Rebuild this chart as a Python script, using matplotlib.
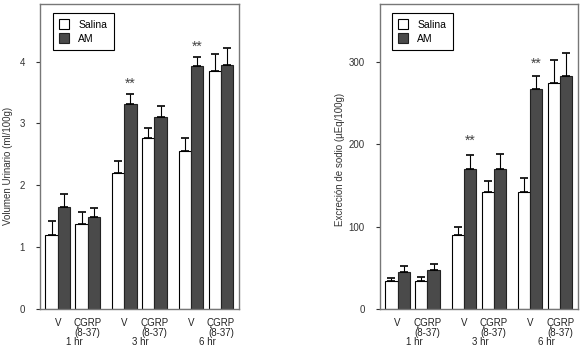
import matplotlib
matplotlib.use("Agg")
import matplotlib.pyplot as plt
from matplotlib.patches import Patch
from matplotlib.transforms import blended_transform_factory
import numpy as np

plt.rcParams['font.family'] = ['Liberation Sans', 'DejaVu Sans']

# ---- data ----
time_groups = ["1 hr", "3 hr", "6 hr"]
conditions = ["V", "ÇGRP\n(8-37)"]
series_names = ["Salina", "AM"]

vol_salina = [1.20, 1.37, 2.20, 2.76, 2.55, 3.84]
vol_salina_err = [0.23, 0.20, 0.19, 0.17, 0.21, 0.28]
vol_am = [1.65, 1.49, 3.32, 3.10, 3.92, 3.95]
vol_am_err = [0.21, 0.15, 0.16, 0.18, 0.16, 0.27]
vol_sig = [False, False, True, False, True, False]
vol_sig_y = [None, None, 3.68, None, 4.29, None]

na_salina = [33.5, 34.3, 90.0, 142.5, 142.5, 274.5]
na_salina_err = [4, 4, 9, 13, 17, 27.5]
na_am = [44.8, 47.6, 170.4, 170.0, 266.5, 282.6]
na_am_err = [7.7, 7.0, 16, 18, 16, 27.5]
na_sig = [False, False, True, False, True, False]
na_sig_y = [None, None, 208, None, 301, None]

ylabels = ["Volumen Urinario (ml/100g)", "Excreción de sodio (µEq/100g)"]

# ---- layout ----
W, H = 580, 347
fig = plt.figure(figsize=(W / 100, H / 100), dpi=100)

bw = 0.41
gstep = 2.22
centers = np.array([g * gstep + c for g in range(3) for c in range(2)])
labels = [conditions[c] for g in range(3) for c in range(2)]

dark = '#4a4a4a'
spine_col = '#777777'
fs = 7

def panel(rect, sal, sal_err, am, am_err, sig, sig_y, ylim, yticks, ylabel, label_pos, legend_x):
    ax = fig.add_axes(rect)
    xs = centers - bw / 2
    xa = centers + bw / 2
    ax.bar(xs, sal, width=bw, color='white', edgecolor='black', linewidth=0.8, zorder=2)
    ax.bar(xa, am, width=bw, color=dark, edgecolor='#222222', linewidth=0.8, zorder=2)
    ax.errorbar(xs, sal, yerr=[np.zeros(len(sal)), sal_err], fmt='none', ecolor='black',
                elinewidth=0.8, capsize=3, capthick=1.2, zorder=3)
    ax.errorbar(xa, am, yerr=[np.zeros(len(am)), am_err], fmt='none', ecolor='black',
                elinewidth=0.8, capsize=3, capthick=1.2, zorder=3)
    for x, s, yy in zip(xa, sig, sig_y):
        if s:
            ax.annotate("**", (x, yy), xytext=(0, -5), textcoords='offset points',
                        ha='center', va='baseline', fontsize=10, color='#444444')
    ax.set_xlim(-0.59, centers[-1] + 0.6)
    ax.set_ylim(*ylim)
    ax.set_yticks(yticks)
    ax.set_yticklabels([str(t) for t in yticks], fontsize=fs, color='#333333')
    ax.tick_params(axis='y', length=3, width=0.8, direction='out', pad=8, color='#333333')
    ax.set_xticks(centers)
    ax.set_xticklabels(labels, fontsize=fs, linespacing=0.95, color='#222222')
    ax.tick_params(axis='x', length=0, pad=6.5)
    trans = blended_transform_factory(ax.transData, ax.transAxes)
    for g, name in enumerate(time_groups):
        ax.text(g * gstep + 0.55, -0.109, name, transform=trans, ha='center', va='center',
                fontsize=fs, color='#222222')
    for sp in ax.spines.values():
        sp.set_color(spine_col)
        sp.set_linewidth(1.0)
    ax.set_ylabel(ylabel, fontsize=fs, color='#333333')
    ax.yaxis.set_label_coords(*label_pos)
    handles = [Patch(facecolor='white', edgecolor='black', linewidth=0.8),
               Patch(facecolor=dark, edgecolor='#222222', linewidth=0.8)]
    leg = ax.legend(handles, series_names, loc='upper left', bbox_to_anchor=(legend_x, 0.97),
                    fontsize=7.5, frameon=True, fancybox=False, handlelength=0.95,
                    handleheight=1.1, handletextpad=0.9, borderpad=0.6, labelspacing=0.3,
                    borderaxespad=0)
    leg.get_frame().set_edgecolor('black')
    leg.get_frame().set_linewidth(0.8)
    leg.get_frame().set_alpha(1)
    return ax

panel([40 / W, 38 / H, 199 / W, 305 / H], vol_salina, vol_salina_err, vol_am, vol_am_err,
      vol_sig, vol_sig_y, (0, 4.93), [0, 1, 2, 3, 4], ylabels[0], (-0.135, 0.47), 0.065)
panel([380 / W, 38 / H, 198 / W, 305 / H], na_salina, na_salina_err, na_am, na_am_err,
      na_sig, na_sig_y, (0, 370), [0, 100, 200, 300], ylabels[1], (-0.175, 0.49), 0.06)

fig.savefig("out.png", dpi=100)
